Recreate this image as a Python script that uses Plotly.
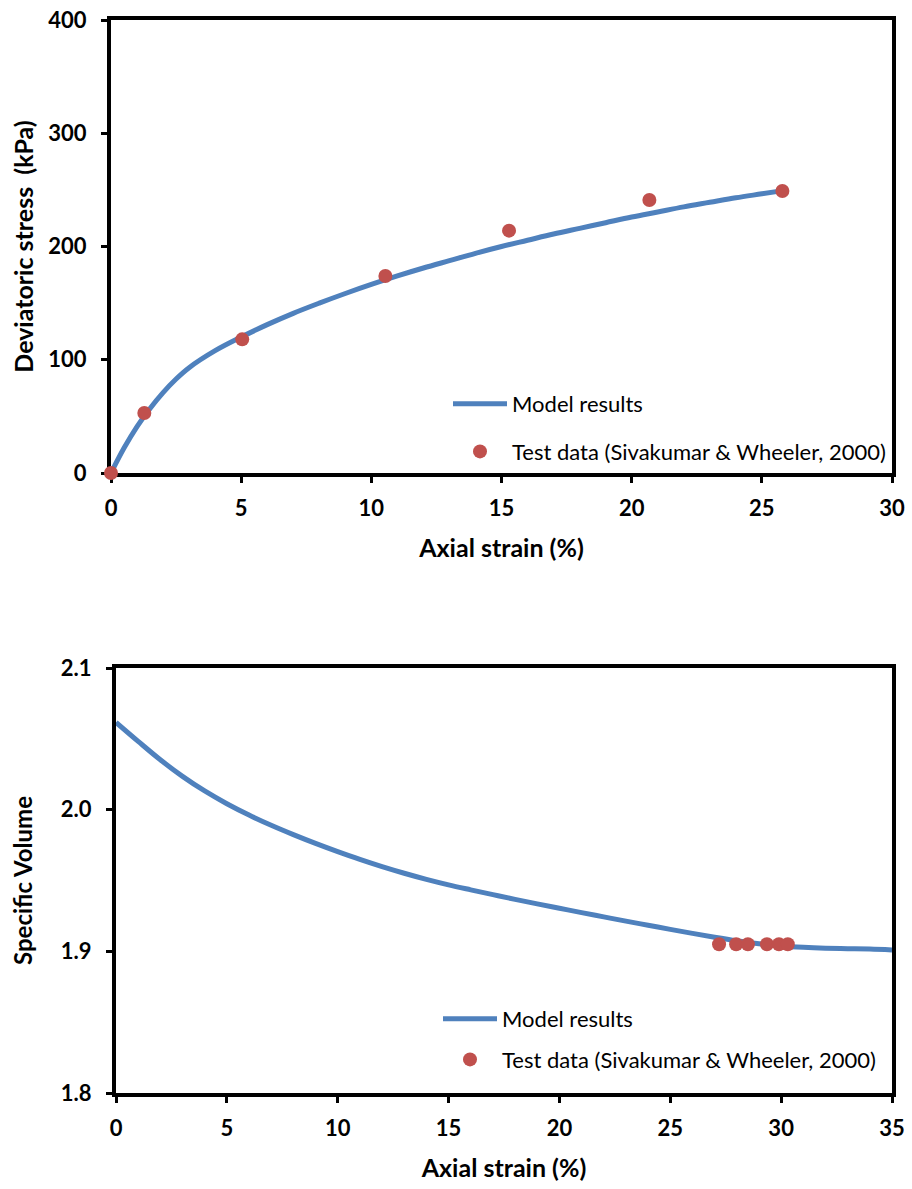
import plotly.graph_objects as go

# ---------------- data ----------------
# Top panel: deviatoric stress vs axial strain
model1_strain = [0, 0.5, 1, 1.5, 2, 2.5, 3, 4, 5, 6, 7, 8, 9, 10, 11, 12, 13, 14,
                 15, 16, 17, 18, 19, 20, 21, 22, 23, 24, 25, 26]
model1_q      = [0, 22, 41, 57, 71, 83, 93, 108, 120, 131, 141, 150, 158.5, 166.5, 174, 181,
                 187.5, 194, 200, 205.5, 211, 216, 221, 226, 230.5, 235, 239, 243, 246.5, 250]
test1_strain  = [0, 1.28, 5.04, 10.54, 15.29, 20.68, 25.79]
test1_q       = [0, 53, 118, 174, 214, 241, 249]

# Bottom panel: specific volume vs axial strain
model2_strain = [0, 1, 2, 3, 4, 5, 6, 7, 8, 9, 10, 11, 12, 13, 14, 15, 16, 17, 18,
                 19, 20, 21, 22, 23, 24, 25, 26, 27, 28, 29, 30, 31, 32, 33, 34, 35]
model2_v      = [2.0616, 2.0482, 2.0352, 2.0235, 2.0132, 2.0042, 1.9962, 1.9890, 1.9824,
                 1.9762, 1.9704, 1.9649, 1.9598, 1.9551, 1.9508, 1.9469, 1.9434, 1.9400,
                 1.9367, 1.9335, 1.9304, 1.9273, 1.9243, 1.9213, 1.9184, 1.9155, 1.9127,
                 1.9100, 1.9075, 1.9054, 1.9038, 1.9028, 1.9022, 1.9019, 1.9016, 1.9010]
test2_strain  = [27.2, 27.97, 28.5, 29.36, 29.9, 30.3]
test2_v       = [1.905, 1.905, 1.905, 1.905, 1.905, 1.905]

top_xticks = [0, 5, 10, 15, 20, 25, 30]
top_yticks = [0, 100, 200, 300, 400]
bot_xticks = [0, 5, 10, 15, 20, 25, 30, 35]
bot_yticks = [1.8, 1.9, 2.0, 2.1]

MODEL_LABEL = "Model results"
TEST_LABEL = "Test data (Sivakumar & Wheeler, 2000)"

BLUE = "#4F81BD"
RED = "#C0504D"
FONT = "Lato"

W, H = 912, 1189

fig = go.Figure()

fig.add_trace(go.Scatter(x=model1_strain, y=model1_q, mode="lines", name=MODEL_LABEL,
                         line=dict(color=BLUE, width=5, shape="spline", smoothing=1),
                         cliponaxis=False,
                         xaxis="x", yaxis="y", legend="legend", legendgroup="a"))
fig.add_trace(go.Scatter(x=test1_strain, y=test1_q, mode="markers", name=TEST_LABEL,
                         marker=dict(color=RED, size=14), cliponaxis=False,
                         xaxis="x", yaxis="y", legend="legend", legendgroup="b"))
fig.add_trace(go.Scatter(x=model2_strain, y=model2_v, mode="lines", name=MODEL_LABEL,
                         line=dict(color=BLUE, width=5, shape="spline", smoothing=1),
                         xaxis="x2", yaxis="y2", legend="legend2", legendgroup="c"))
fig.add_trace(go.Scatter(x=test2_strain, y=test2_v, mode="markers", name=TEST_LABEL,
                         marker=dict(color=RED, size=14), cliponaxis=False,
                         xaxis="x2", yaxis="y2", legend="legend2", legendgroup="d"))

def px_x(p):
    return p / W

def px_y(p):
    return 1 - p / H

tickfont = dict(family=FONT, size=22, color="black", weight="bold")
xtitlefont = dict(family=FONT, size=25, color="black", weight="bold")
axis_common = dict(showline=True, linecolor="black", linewidth=4, mirror=True,
                   ticks="outside", ticklen=6, tickwidth=3, tickcolor="black",
                   showgrid=False, zeroline=False, tickfont=tickfont,
                   automargin=False, layer="below traces")

fig.update_layout(
    width=W, height=H,
    margin=dict(l=0, r=0, t=0, b=0),
    paper_bgcolor="white", plot_bgcolor="white",
    font=dict(family=FONT, color="black"),
    xaxis=dict(domain=[px_x(111), px_x(892)], range=[0, 30], tickvals=top_xticks,
               anchor="y", ticklabelstandoff=7,
               title=dict(text="Axial strain (%)", font=xtitlefont, standoff=20),
               **axis_common),
    yaxis=dict(domain=[px_y(473), px_y(20)], range=[0, 400], tickvals=top_yticks,
               anchor="x", ticklabelstandoff=10,
               title=dict(text="Deviatoric stress  (kPa)",
                          font=dict(family=FONT, size=25, color="black", weight="bold"),
                          standoff=9),
               **axis_common),
    xaxis2=dict(domain=[px_x(116), px_x(892)], range=[0, 35], tickvals=bot_xticks,
                anchor="y2", ticklabelstandoff=7,
                title=dict(text="Axial strain (%)", font=xtitlefont, standoff=20),
                **axis_common),
    yaxis2=dict(domain=[px_y(1093), px_y(668)], range=[1.8, 2.1], tickvals=bot_yticks,
                tickformat=".1f", anchor="x2", ticklabelstandoff=10,
                title=dict(text="Specific Volume",
                           font=dict(family=FONT, size=24, color="black", weight="bold"),
                           standoff=22),
                **axis_common),
    legend=dict(x=px_x(448), y=px_y(383), xanchor="left", yanchor="top",
                bgcolor="rgba(0,0,0,0)", itemwidth=54, tracegroupgap=16,
                traceorder="grouped",
                font=dict(family=FONT, size=22, color="black")),
    legend2=dict(x=px_x(438), y=px_y(998), xanchor="left", yanchor="top",
                 bgcolor="rgba(0,0,0,0)", itemwidth=54, tracegroupgap=9,
                 traceorder="grouped",
                 font=dict(family=FONT, size=22, color="black")),
)

fig.write_html("out.html")
